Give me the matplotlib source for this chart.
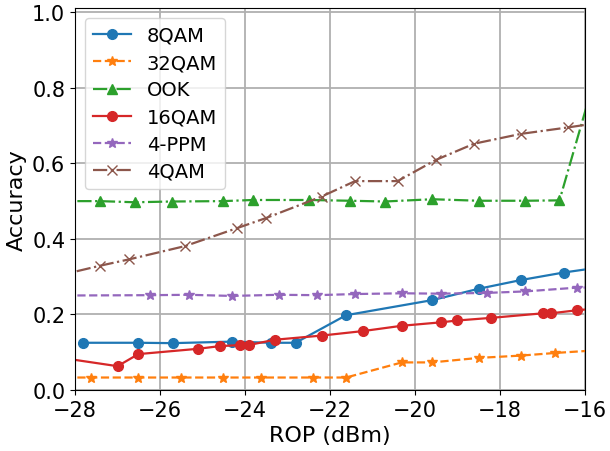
import matplotlib
matplotlib.use("Agg")
import matplotlib.pyplot as plt

# Data (ROP in dBm, accuracy)
x_8qam = [-27.82, -26.51, -25.70, -24.31, -23.40, -22.81, -21.62, -19.59, -18.50, -17.51, -16.50, -15.5]
y_8qam = [0.125, 0.125, 0.124, 0.128, 0.125, 0.125, 0.198, 0.238, 0.268, 0.291, 0.311, 0.327]

x_32qam = [-28.5, -27.62, -26.51, -25.51, -24.52, -23.62, -22.41, -21.62, -20.31, -19.60, -18.50, -17.51, -16.70, -15.6]
y_32qam = [0.033, 0.033, 0.033, 0.033, 0.033, 0.033, 0.033, 0.033, 0.073, 0.073, 0.085, 0.091, 0.098, 0.106]

x_ook = [-28.5, -27.41, -26.60, -25.71, -24.52, -23.82, -22.50, -21.53, -20.71, -19.59, -18.50, -17.40, -16.60, -15.4]
y_ook = [0.500, 0.500, 0.497, 0.499, 0.500, 0.503, 0.503, 0.501, 0.499, 0.505, 0.501, 0.501, 0.502, 0.97]

x_16qam = [-28.5, -27.00, -26.51, -25.11, -24.60, -24.11, -23.91, -23.30, -22.20, -21.22, -20.31, -19.40, -19.00, -18.20, -16.99, -16.80, -16.19, -15.5]
y_16qam = [0.088, 0.063, 0.095, 0.109, 0.116, 0.119, 0.119, 0.133, 0.144, 0.156, 0.170, 0.179, 0.184, 0.191, 0.203, 0.203, 0.211, 0.218]

x_4ppm = [-28.5, -26.23, -25.31, -24.31, -23.21, -22.31, -21.41, -20.31, -19.40, -18.31, -17.40, -16.19, -15.5]
y_4ppm = [0.250, 0.251, 0.252, 0.249, 0.252, 0.251, 0.254, 0.256, 0.255, 0.257, 0.261, 0.271, 0.272]

x_4qam = [-28.5, -27.41, -26.72, -25.41, -24.20, -23.51, -22.20, -21.41, -20.41, -19.51, -18.61, -17.51, -16.41, -15.5]
y_4qam = [0.300, 0.329, 0.346, 0.381, 0.428, 0.455, 0.512, 0.553, 0.553, 0.609, 0.652, 0.678, 0.695, 0.710]

fig = plt.figure(figsize=(6.1, 4.52), dpi=100)
ax = fig.add_axes([0.123, 0.135, 0.836, 0.844])

lw = 1.6
ms = 7
ax.plot(x_8qam, y_8qam, color='#1f77b4', linestyle='-', marker='o', lw=lw, ms=ms, label='8QAM')
ax.plot(x_32qam, y_32qam, color='#ff7f0e', linestyle='--', marker='*', lw=lw, ms=ms, label='32QAM')
ax.plot(x_ook, y_ook, color='#2ca02c', linestyle='-.', marker='^', lw=lw, ms=ms, label='OOK')
ax.plot(x_16qam, y_16qam, color='#d62728', linestyle='-', marker='o', lw=lw, ms=ms, label='16QAM')
ax.plot(x_4ppm, y_4ppm, color='#9467bd', linestyle='--', marker='*', lw=lw, ms=ms, label='4-PPM')
ax.plot(x_4qam, y_4qam, color='#8c564b', linestyle='-.', marker='x', lw=lw, ms=ms, label='4QAM')

ax.set_xlim(-28, -16)
ax.set_ylim(0, 1.01)
ax.set_xticks([-28, -26, -24, -22, -20, -18, -16])
ax.set_yticks([0.0, 0.2, 0.4, 0.6, 0.8, 1.0])
ax.tick_params(labelsize=15)
ax.grid(True, color='#b0b0b0', lw=1.3)
ax.set_axisbelow(True)
ax.set_xlabel('ROP (dBm)', fontsize=16)
ax.set_ylabel('Accuracy', fontsize=16)
ax.legend(loc='upper left', fontsize=14, labelspacing=0.42)

fig.savefig('out.png', dpi=100)
